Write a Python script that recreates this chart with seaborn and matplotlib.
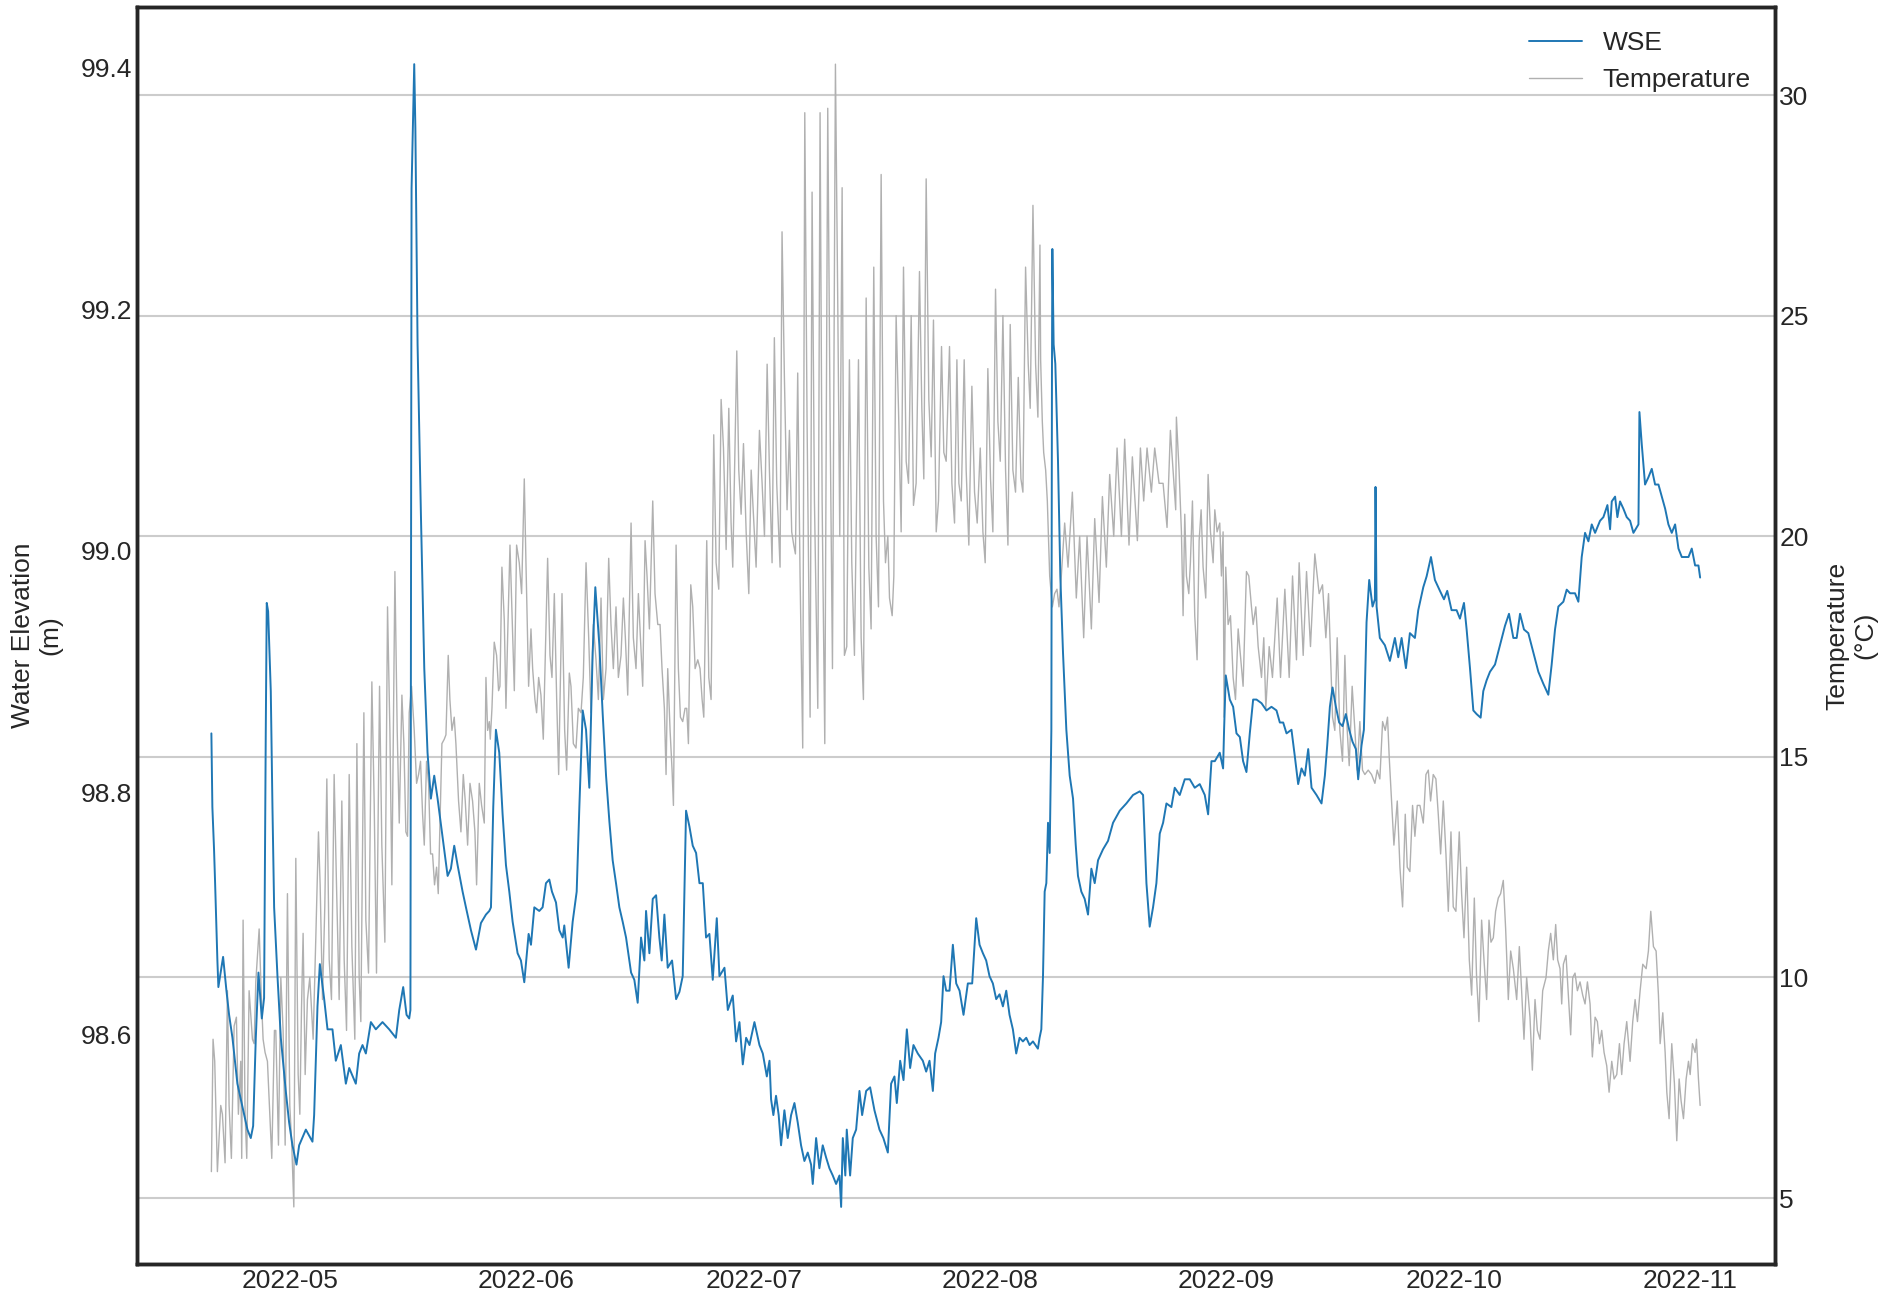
import pandas as pd
import matplotlib
matplotlib.use("Agg")
import matplotlib.pyplot as plt
import seaborn as sns

# days after 2022-05-01 00:00, water surface elevation (m)
wse_days = [
    -10.37, -10.24, -10.02, -9.88, -9.58, -9.45, -8.83, -8.39, -8.04, -7.60, -6.95, -6.29, -5.63, -5.19,
    -4.88, -4.53, -4.18, -3.74, -3.44, -3.22, -3.09, -2.91, -2.56, -2.34, -2.12, -1.68, -1.24, -0.59,
    -0.15, 0.29, 0.82, 1.17, 2.05, 2.92, 3.14, 3.58, 3.89, 4.46, 4.90, 5.55, 5.99, 6.65, 7.31, 7.75,
    8.62, 9.06, 9.50, 9.94, 10.60, 11.25, 12.13, 13.01, 13.89, 14.33, 14.85, 15.29, 15.64, 15.80, 15.95,
    16.30, 16.45, 16.74, 17.18, 17.62, 18.05, 18.49, 18.93, 19.37, 20.03, 20.69, 21.12, 21.56, 22.00,
    22.66, 23.10, 23.76, 24.42, 25.07, 25.73, 26.17,
    26.39, 26.69, 27.04, 27.48, 27.92, 28.36, 28.80, 29.24, 29.89, 30.33, 30.77, 31.34, 31.65, 32.09,
    32.74, 33.18, 33.62, 34.06, 34.41, 34.94, 35.38, 35.82, 36.03, 36.60, 37.13, 37.66, 38.01, 38.45,
    38.89, 39.32, 39.76, 40.11, 40.64, 41.08, 41.52, 41.96, 42.39, 42.83, 43.27, 43.71, 44.15, 44.81,
    45.24, 45.68, 46.12, 46.56, 46.78, 47.22, 47.66, 48.10, 48.53, 48.84, 49.19, 49.63, 50.20, 50.73,
    51.17, 51.60, 51.74, 52.04, 52.48, 52.92, 53.36, 53.80, 54.24, 54.67, 55.11, 55.55, 56.08, 56.43,
    57.09, 57.53, 58.18, 58.62, 59.06, 59.50, 59.94, 60.38, 61.03, 61.69, 62.13, 62.66, 63.01,
    63.22, 63.52, 63.87, 64.22, 64.53, 64.97, 65.41, 65.85, 66.29, 66.72, 67.16, 67.60, 68.04, 68.48,
    68.70, 69.14, 69.57, 70.01, 70.45, 70.89, 71.33, 71.77, 72.21, 72.43, 72.65, 72.98, 73.17, 73.61,
    73.96, 74.40, 74.84, 75.19, 75.72, 76.24, 76.81, 77.47, 77.98, 78.57, 79.00, 79.44, 79.75, 80.19,
    80.63, 81.07, 81.50, 81.94, 82.51, 83.17, 83.61, 84.05, 84.49, 84.79, 85.23, 85.58, 85.89, 86.24,
    86.68, 87.12, 87.56, 88.00, 88.52, 89.09, 89.66, 90.19, 90.63, 91.07, 91.50, 91.94, 92.38, 92.82,
    93.26, 93.70, 94.14, 94.57, 95.01, 95.45, 95.89, 96.33, 96.77, 97.21, 97.65, 98.30, 98.52,
    98.75, 98.97, 99.19, 99.41, 99.63, 99.85, 100.07, 100.15, 100.20, 100.37, 100.59, 100.94, 101.25,
    101.60, 102.04, 102.48, 102.92, 103.27, 103.57, 104.01, 104.45, 104.89, 105.33, 105.77, 106.21,
    106.86, 107.52, 108.18, 109.06, 109.93, 110.81, 111.69, 112.13, 112.57, 113.00, 113.44, 113.88,
    114.32, 114.76, 115.20, 115.85, 116.29, 116.95, 117.61, 118.27, 118.92, 119.58, 120.24, 120.68,
    121.12, 121.56, 122.21, 122.65, 122.78, 123.00, 123.53, 123.97, 124.41, 124.85, 125.28, 125.72,
    126.16, 126.60, 127.04, 127.70, 128.35, 129.01, 129.67, 130.11, 130.55, 130.99, 131.64, 132.08,
    132.52, 132.96, 133.40, 133.84, 134.28, 134.93, 135.59, 136.03, 136.34, 136.69,
    137.04, 137.48, 137.91, 138.35, 138.79, 139.23, 139.67, 140.11, 140.41, 140.85, 141.16, 141.51,
    141.86, 142.30, 142.61, 142.69, 142.83, 143.26, 143.92, 144.58, 145.24, 145.68, 146.12, 146.69,
    147.21, 147.87, 148.31, 148.97, 149.41, 149.98, 150.50, 151.16, 151.69, 152.12, 152.69, 153.35,
    153.79, 154.32, 154.67, 155.11, 155.55, 155.98, 156.51, 156.86, 157.30, 157.74, 158.40, 159.05,
    159.71, 160.24, 160.81, 161.25, 161.69, 162.21, 162.78, 163.44, 164.10, 164.76, 165.41, 165.85,
    166.29, 166.73,
    167.39, 167.83, 168.27, 168.92, 169.36, 169.80, 170.24, 170.68, 171.12, 171.56, 172.21, 172.65,
    173.18, 173.53, 173.75, 174.19, 174.49, 174.84, 175.28, 175.72, 176.16, 176.60, 177.26, 177.39,
    177.70, 178.13, 178.57, 179.01, 179.45, 179.89, 180.33, 180.77, 181.20, 181.64, 182.08, 182.52,
    182.96, 183.40, 183.84, 184.27, 184.71, 185.15, 185.37,
]
wse_m = [
    98.849, 98.788, 98.753, 98.725, 98.661, 98.639, 98.664, 98.636, 98.616, 98.597, 98.559, 98.540, 98.521, 98.514,
    98.524, 98.597, 98.651, 98.613, 98.630, 98.850, 98.957, 98.950, 98.884, 98.788, 98.705, 98.648, 98.597, 98.553,
    98.527, 98.508, 98.492, 98.508, 98.521, 98.511, 98.533, 98.623, 98.658, 98.629, 98.604, 98.604, 98.578, 98.591, 98.559, 98.572,
    98.559, 98.584, 98.591, 98.584, 98.610, 98.604, 98.610, 98.604, 98.597, 98.620, 98.639, 98.616, 98.613, 98.620, 99.300,
    99.403, 99.350, 99.171, 99.030, 98.903, 98.833, 98.795, 98.814, 98.795, 98.763, 98.731, 98.737, 98.756, 98.740,
    98.718, 98.705, 98.686, 98.670, 98.692, 98.699, 98.702,
    98.705, 98.788, 98.852, 98.833, 98.782, 98.740, 98.718, 98.693, 98.667, 98.661, 98.643, 98.683, 98.674, 98.705,
    98.702, 98.705, 98.725, 98.728, 98.718, 98.709, 98.686, 98.680, 98.690, 98.655, 98.693, 98.718, 98.788, 98.868,
    98.852, 98.804, 98.916, 98.970, 98.922, 98.865, 98.814, 98.776, 98.744, 98.725, 98.705, 98.693, 98.680, 98.651,
    98.645, 98.626, 98.680, 98.661, 98.702, 98.667, 98.712, 98.715, 98.680, 98.661, 98.699, 98.655, 98.661, 98.629,
    98.635, 98.648, 98.693, 98.785, 98.772, 98.756, 98.750, 98.725, 98.725, 98.680, 98.683, 98.645, 98.696, 98.648,
    98.655, 98.620, 98.632, 98.594, 98.610, 98.575, 98.597, 98.591, 98.610, 98.591, 98.584, 98.565, 98.578,
    98.546, 98.533, 98.549, 98.533, 98.508, 98.537, 98.514, 98.533, 98.543, 98.527, 98.508, 98.495, 98.502, 98.492,
    98.476, 98.514, 98.489, 98.508, 98.498, 98.489, 98.483, 98.476, 98.483, 98.457, 98.514, 98.483, 98.521, 98.483,
    98.514, 98.521, 98.553, 98.533, 98.553, 98.556, 98.537, 98.521, 98.514, 98.502, 98.559, 98.565, 98.543, 98.578,
    98.562, 98.604, 98.572, 98.591, 98.584, 98.578, 98.569, 98.578, 98.553, 98.584, 98.597, 98.610, 98.648, 98.636,
    98.636, 98.674, 98.642, 98.636, 98.616, 98.642, 98.642, 98.696, 98.674, 98.667, 98.661, 98.648, 98.642, 98.629,
    98.633, 98.623, 98.636, 98.616, 98.604, 98.584, 98.597, 98.594, 98.597, 98.591, 98.594, 98.588, 98.597,
    98.604, 98.648, 98.718, 98.725, 98.775, 98.750, 98.852, 99.150, 99.250, 99.171, 99.155, 99.075, 98.979,
    98.916, 98.852, 98.814, 98.795, 98.757, 98.731, 98.718, 98.712, 98.699, 98.737, 98.725, 98.744,
    98.753, 98.760, 98.775, 98.785, 98.791, 98.798, 98.801, 98.798, 98.725, 98.689, 98.705, 98.725,
    98.766, 98.775, 98.791, 98.788, 98.804, 98.798, 98.811, 98.811, 98.804, 98.807, 98.798, 98.782,
    98.826, 98.826, 98.833, 98.820, 98.852, 98.897, 98.877, 98.871, 98.849, 98.846, 98.826, 98.817,
    98.849, 98.877, 98.877, 98.874, 98.868, 98.871, 98.868, 98.858, 98.858, 98.849, 98.852, 98.830,
    98.807, 98.820, 98.814, 98.836, 98.804, 98.798, 98.791, 98.814, 98.839, 98.871,
    98.887, 98.871, 98.858, 98.855, 98.865, 98.852, 98.842, 98.836, 98.811, 98.839, 98.852, 98.941,
    98.976, 98.954, 98.960, 99.053, 98.954, 98.928, 98.922, 98.909, 98.928, 98.912, 98.928, 98.903,
    98.932, 98.928, 98.951, 98.970, 98.979, 98.995, 98.976, 98.967, 98.960, 98.967, 98.951, 98.951,
    98.944, 98.957, 98.935, 98.903, 98.868, 98.865, 98.862, 98.884, 98.893, 98.900, 98.906, 98.922,
    98.938, 98.948, 98.928, 98.928, 98.948, 98.935, 98.932, 98.916, 98.900, 98.890, 98.881, 98.906,
    98.935, 98.954,
    98.958, 98.968, 98.965, 98.965, 98.958, 98.995, 99.015, 99.008, 99.022, 99.015, 99.025, 99.028,
    99.038, 99.018, 99.041, 99.045, 99.028, 99.041, 99.035, 99.028, 99.025, 99.015, 99.022, 99.115,
    99.088, 99.055, 99.061, 99.068, 99.055, 99.055, 99.045, 99.035, 99.022, 99.015, 99.022, 99.002,
    98.995, 98.995, 98.995, 99.002, 98.988, 98.988, 98.978,
]

# days after 2022-05-01 00:00, water temperature (degC)
temp_days = [
    -10.37, -10.15, -9.93, -9.58, -9.14, -8.92, -8.57, -8.26, -8.04, -7.74, -7.38, -7.08, -6.82, -6.51,
    -6.38, -6.20, -5.94, -5.72, -5.41, -4.97, -4.75, -4.53, -4.09, -3.83, -3.57, -3.31, -3.00, -2.69,
    -2.43, -2.08, -1.90, -1.55, -1.24, -0.94, -0.67, -0.37, -0.06, 0.20, 0.47, 0.73, 1.04, 1.26, 1.48,
    1.69, 1.96, 2.26, 2.57, 3.01, 3.36, 3.71, 3.93, 4.24, 4.54, 4.81, 5.12, 5.42, 5.77, 6.08, 6.43,
    6.78, 7.09, 7.40, 7.75, 8.10, 8.49, 8.76, 9.06, 9.28, 9.68, 9.94, 10.29, 10.73, 11.04, 11.34,
    11.74, 12.04, 12.44, 12.79, 13.10, 13.36, 13.76, 14.06, 14.33, 14.68, 14.94, 15.20, 15.42, 15.64,
    15.95, 16.30, 16.61, 16.87, 17.13, 17.40, 17.62, 17.92, 18.19, 18.45, 18.71, 18.97, 19.24, 19.46,
    19.68, 19.94, 20.25, 20.47, 20.77, 20.99, 21.26, 21.56, 21.78, 22.13, 22.44, 22.75, 23.01, 23.32,
    23.63, 23.97, 24.28, 24.50, 24.85, 25.16, 25.51, 25.73, 25.95, 26.17,
    26.30, 26.52, 26.82, 27.13, 27.39, 27.57, 27.83, 28.14, 28.36, 28.58, 28.89, 29.10, 29.46, 29.76,
    30.11, 30.42, 30.77, 30.99, 31.34, 31.65, 31.87, 32.17, 32.39, 32.66, 32.96, 33.27, 33.53, 33.84,
    34.15, 34.41, 34.72, 35.03, 35.29, 35.73, 36.08, 36.34, 36.69, 36.91, 37.22, 37.57, 37.88, 38.23,
    38.53, 38.89, 39.24, 39.54, 39.85, 40.20, 40.51, 40.86, 41.17, 41.52, 41.87, 42.17, 42.48, 42.83,
    43.14, 43.49, 43.80, 44.06, 44.37, 44.81, 45.11, 45.46, 45.77, 45.99, 46.34, 46.65, 46.91, 47.22,
    47.66, 47.96, 48.32, 48.62, 48.88, 49.19, 49.41, 49.63, 49.94, 50.20, 50.38, 50.73, 51.03, 51.30,
    51.60, 51.91, 52.13, 52.35, 52.66, 52.92, 53.23, 53.58, 53.88, 54.15, 54.37, 54.76, 55.03, 55.33,
    55.68, 55.99, 56.34, 56.65, 56.96, 57.31, 57.66, 57.96, 58.18, 58.71, 58.97, 59.28, 59.59, 59.94,
    60.29, 60.60, 60.90, 61.25, 61.69, 62.04, 62.35, 62.70,
    63.00, 63.35, 63.65, 63.96, 64.40, 64.66, 64.97, 65.32, 65.63, 65.93, 66.20, 66.42, 66.72, 67.03,
    67.38, 67.65, 67.95, 68.35, 68.61, 68.92, 69.36, 69.66, 69.93, 70.28, 70.67, 70.98, 71.29, 71.68,
    71.99, 72.25, 72.56, 72.86, 73.17, 73.52, 73.83, 74.18, 74.71, 75.06, 75.36, 75.72, 76.07, 76.37,
    76.72, 77.03, 77.34, 77.69, 78.00, 78.26, 78.57, 78.79, 79.14, 79.36, 79.66, 79.97, 80.32, 80.63,
    80.98, 81.29, 81.64, 81.94, 82.29, 82.73, 83.04, 83.30, 83.61, 83.96, 84.27, 84.57, 84.93, 85.23,
    85.63, 85.93, 86.24, 86.68, 86.99, 87.34, 87.65, 87.91, 88.22, 88.61, 88.87, 89.22, 89.62, 89.97,
    90.32, 90.72, 91.07, 91.37, 91.72, 92.07, 92.38, 92.73, 93.04, 93.35, 93.70, 94.05, 94.36, 94.66,
    95.01, 95.36, 95.72, 96.07, 96.33, 96.68, 97.03, 97.29, 97.65, 98.00, 98.30, 98.57, 98.66, 98.88,
    99.06, 99.32, 99.54, 99.85,
    100.20, 100.50, 100.81, 101.07, 101.38, 101.82, 102.26, 102.83, 103.35, 103.79, 104.32, 104.76,
    105.33, 105.77, 106.34, 106.78, 107.30, 107.74, 108.27, 108.71, 109.28, 109.71, 110.28, 110.72,
    111.38, 111.78, 112.21, 112.65, 113.22, 113.66, 114.23, 114.76, 115.28, 115.72, 116.07, 116.42,
    116.51, 116.86, 117.17, 117.39, 117.61, 117.83, 118.14, 118.35, 118.62, 118.92, 119.23, 119.50,
    119.76, 120.02, 120.37, 120.68, 120.99, 121.34, 121.56, 121.86, 122.21, 122.43, 122.65, 122.78,
    123.00, 123.31, 123.62, 123.97, 124.28, 124.63, 124.93, 125.28, 125.72, 126.03, 126.38, 126.60,
    126.95, 127.26, 127.70, 128.00, 128.27, 128.71, 129.14, 129.76, 130.20, 130.77, 131.34, 131.78,
    132.30, 132.65, 133.18, 133.62, 134.14, 134.71, 135.28, 135.72, 136.16, 136.51,
    137.04, 137.34, 137.65, 138.00, 138.35, 138.66, 138.97, 139.23, 139.62, 139.98, 140.28, 140.63,
    140.98, 141.29, 141.73, 142.17, 142.61, 142.91, 143.26, 143.62, 143.97, 144.27, 144.49, 144.80,
    145.11, 145.55, 145.90, 146.25, 146.60, 146.86, 147.21, 147.56, 147.87, 148.18, 148.53, 148.97,
    149.32, 149.63, 149.93, 150.28, 150.63, 150.94, 151.25, 151.60, 151.95, 152.26, 152.61, 152.91,
    153.26, 153.70, 154.01, 154.32, 154.67, 155.02, 155.33, 155.68, 155.98, 156.29, 156.64, 156.95,
    157.30, 157.61, 157.87, 158.18, 158.48, 158.83, 159.14, 159.49, 159.80, 160.15, 160.46, 160.81,
    161.25, 161.60, 161.90, 162.21, 162.56, 163.00, 163.31, 163.66, 163.97, 164.32, 164.67, 165.11,
    165.41, 165.72, 166.07, 166.38, 166.64,
    166.95, 167.17, 167.39, 167.74, 168.05, 168.35, 168.62, 168.92, 169.23, 169.58, 169.93, 170.24,
    170.55, 170.90, 171.20, 171.56, 171.86, 172.13, 172.43, 172.74, 173.09, 173.40, 173.75, 174.06,
    174.41, 174.76, 175.06, 175.37, 175.72, 176.16, 176.51, 176.82, 177.13, 177.48, 177.83, 178.27,
    178.57, 178.88, 179.23, 179.58, 179.89, 180.11, 180.46, 180.77, 180.99, 181.29, 181.64, 181.99,
    182.30, 182.61, 182.87, 183.18, 183.53, 183.84, 184.06, 184.36, 184.71, 184.89, 185.15, 185.37,
]
temp_c = [
    5.6, 8.6, 8.1, 5.6, 7.1, 6.9, 5.8, 9.7, 7.1, 5.9, 8.9, 9.1, 6.9, 8.1,
    5.9, 11.3, 6.9, 5.9, 9.7, 8.6, 8.5, 9.9, 11.1, 9.7, 8.6, 8.3, 8.1, 6.9,
    5.9, 8.8, 8.8, 6.2, 10.0, 8.8, 6.2, 11.9, 7.1, 6.2, 4.8, 12.7, 7.8, 6.9, 9.3,
    11.0, 7.8, 9.5, 10.0, 8.6, 10.9, 13.3, 12.1, 9.5, 11.6, 14.5, 10.4, 9.5, 14.6, 12.1, 9.5,
    14.0, 10.4, 8.8, 14.6, 10.7, 8.6, 15.3, 10.0, 9.0, 16.0, 11.3, 10.1, 16.7, 13.9, 10.1,
    16.6, 13.0, 10.8, 18.4, 15.6, 12.1, 19.2, 15.6, 13.5, 16.4, 15.3, 13.3, 13.2, 16.0,
    16.6, 15.6, 14.4, 14.6, 14.9, 13.7, 13.0, 14.9, 14.4, 12.8, 12.8, 12.1, 12.5, 11.9,
    13.5, 15.3, 15.4, 15.5, 17.3, 16.3, 15.6, 15.9, 15.3, 14.0, 13.3, 14.6, 14.0, 13.0,
    14.4, 14.0, 13.3, 12.1, 14.4, 13.9, 13.5, 16.8, 15.6, 15.8,
    15.4, 16.1, 17.6, 17.3, 16.5, 16.6, 19.3, 18.1, 16.1, 17.7, 19.8, 18.6, 16.5, 19.8,
    19.4, 18.7, 21.3, 19.4, 16.6, 17.9, 17.0, 16.3, 16.0, 16.8, 16.4, 15.4, 17.3, 19.5,
    17.3, 16.8, 18.7, 16.3, 14.6, 18.7, 15.6, 14.7, 16.9, 16.6, 15.3, 15.2, 16.1, 16.0,
    16.8, 19.4, 17.7, 16.0, 18.0, 17.2, 16.3, 18.6, 16.3, 17.0, 19.5, 18.0, 17.0, 18.4,
    16.8, 17.3, 18.6, 17.7, 16.4, 20.3, 17.7, 17.0, 18.7, 17.9, 16.6, 19.9, 19.1, 17.9,
    20.8, 18.7, 18.0, 18.0, 17.0, 16.1, 14.6, 17.0, 15.6, 14.7, 13.9, 19.8, 17.0, 15.9,
    15.8, 16.1, 16.1, 15.3, 18.9, 18.4, 17.0, 17.2, 17.0, 16.3, 15.9, 19.9, 16.8, 16.3,
    22.3, 19.4, 18.8, 23.1, 22.0, 19.7, 22.9, 20.3, 19.3, 24.2, 21.5, 20.5, 22.1, 20.1,
    18.7, 21.5, 20.5, 19.3, 22.4, 21.2, 20.0, 23.9,
    21.5, 19.4, 24.5, 21.2, 19.3, 26.9, 23.6, 20.6, 22.4, 20.1, 19.8, 19.6, 23.7, 19.1,
    15.2, 29.6, 22.6, 15.9, 27.8, 20.8, 16.1, 29.6, 20.8, 15.3, 29.7, 22.6, 17.0, 30.7,
    25.2, 20.0, 27.9, 17.3, 17.5, 24.0, 19.4, 17.3, 24.0, 17.7, 16.3, 25.4, 19.3, 17.9,
    26.1, 20.0, 18.4, 28.2, 20.8, 19.4, 20.0, 18.6, 18.2, 19.1, 25.0, 22.9, 20.1, 26.1,
    21.7, 21.2, 25.0, 20.7, 21.2, 26.0, 22.9, 21.3, 28.1, 23.1, 21.8, 24.9, 20.1, 20.8,
    24.3, 21.9, 21.7, 24.3, 21.2, 20.3, 24.0, 21.2, 20.8, 24.0, 21.5, 19.8, 23.4, 21.0,
    20.3, 22.0, 20.1, 19.4, 23.8, 21.3, 20.1, 25.6, 22.6, 21.7, 25.0, 21.5, 19.8, 24.8,
    21.5, 21.0, 23.6, 21.3, 21.0, 26.1, 23.9, 22.9, 27.5, 23.9, 22.7, 26.6, 24.0, 22.6,
    21.9, 21.5, 20.8, 19.1,
    18.4, 18.7, 18.8, 18.4, 19.1, 20.3, 19.3, 21.0, 18.6, 20.0, 17.7, 20.0,
    17.9, 20.4, 18.5, 20.9, 19.3, 21.4, 20.0, 22.0, 20.0, 22.2, 19.8, 21.8,
    19.9, 22.0, 20.8, 22.0, 21.0, 22.0, 21.2, 21.2, 20.2, 22.4, 21.5, 20.6,
    22.7, 21.5, 20.1, 18.2, 20.5, 19.1, 18.7, 19.4, 20.8, 18.2, 17.2, 19.9,
    20.6, 19.3, 18.6, 21.4, 20.1, 19.4, 20.6, 20.1, 20.3, 19.1, 20.1, 15.9,
    19.3, 18.0, 18.2, 16.8, 16.3, 17.9, 17.3, 16.6, 19.2, 19.1, 18.4, 18.0,
    18.4, 17.5, 16.8, 17.7, 16.1, 17.5, 16.8, 18.6, 16.8, 18.8, 16.8, 19.1,
    17.2, 19.4, 17.3, 19.2, 17.5, 19.6, 18.7, 18.9, 17.7, 18.7,
    15.9, 15.6, 17.7, 15.6, 14.9, 17.3, 15.6, 14.8, 16.6, 15.6, 14.7, 15.8,
    14.7, 14.6, 14.7, 14.6, 14.4, 14.7, 14.5, 15.8, 15.6, 15.9, 15.0, 14.0,
    13.0, 14.0, 12.5, 11.6, 13.7, 12.5, 12.4, 13.9, 13.2, 13.9, 13.9, 13.5,
    14.6, 14.7, 14.0, 14.6, 14.5, 13.7, 12.8, 14.0, 12.8, 11.5, 13.3, 11.6,
    11.5, 13.3, 11.9, 10.9, 12.5, 10.4, 9.6, 11.8, 10.0, 9.0, 11.3, 10.4,
    9.5, 11.3, 10.8, 10.9, 11.5, 11.8, 11.9, 12.2, 11.1, 9.5, 10.6, 10.2,
    9.5, 10.7, 9.7, 8.6, 10.0, 9.1, 7.9, 9.5, 8.8, 8.6, 9.7, 10.0,
    10.6, 11.0, 10.4, 11.2, 10.4,
    10.2, 9.4, 10.3, 10.5, 9.6, 8.7, 10.0, 10.1, 9.7, 9.9, 9.6, 9.4,
    9.9, 9.4, 8.2, 9.1, 9.0, 8.5, 8.8, 8.3, 8.0, 7.4, 8.1, 7.7,
    7.8, 8.5, 7.8, 8.5, 9.0, 8.1, 9.0, 9.5, 9.0, 9.7, 10.3, 10.2,
    10.6, 11.5, 10.7, 10.6, 9.6, 8.5, 9.2, 8.3, 7.4, 6.8, 8.5, 7.6,
    6.3, 7.7, 7.2, 6.8, 7.7, 8.1, 7.8, 8.5, 8.3, 8.6, 7.7, 7.1,
]

start = pd.Timestamp("2022-05-01")
wse = pd.DataFrame({"time": start + pd.to_timedelta(wse_days, unit="D"), "WSE": wse_m})
temp = pd.DataFrame({"time": start + pd.to_timedelta(temp_days, unit="D"), "Temperature": temp_c})

sns.set_style("white")
plt.rcParams["font.family"] = ["Liberation Sans", "DejaVu Sans"]

fig, ax = plt.subplots(figsize=(19.02, 13.01), dpi=100)
ax2 = ax.twinx()

sns.lineplot(data=temp, x="time", y="Temperature", ax=ax2, color="#b0b0b0", linewidth=1.0, label="Temperature", legend=False)
sns.lineplot(data=wse, x="time", y="WSE", ax=ax, color="#1f77b4", linewidth=1.4, label="WSE", legend=False)

# WSE drawn above the temperature axis
ax.set_zorder(ax2.get_zorder() + 1)
ax.patch.set_visible(False)

ax2.grid(axis="y", color="#cccccc", linewidth=1.5)
ax.grid(False)

ax.set_xlabel("")
ax.set_ylabel("Water Elevation\n(m)", fontsize=19, family=["Liberation Sans Narrow", "Liberation Sans"], labelpad=13)
ax2.set_ylabel("Temperature\n(°C)", fontsize=19, labelpad=12)

ax.tick_params(axis="both", labelsize=19, colors="#262626", length=0)
ax2.tick_params(axis="y", labelsize=19, colors="#262626", length=0)
ax.xaxis.set_major_formatter(matplotlib.dates.DateFormatter("%Y-%m"))

for sp in ax.spines.values():
    sp.set_color("#262626")
    sp.set_linewidth(2.5)
for sp in ax2.spines.values():
    sp.set_color("#262626")
    sp.set_linewidth(2.5)

h1, l1 = ax.get_legend_handles_labels()
h2, l2 = ax2.get_legend_handles_labels()
ax.legend(h1 + h2, l1 + l2, loc="upper right", frameon=False, fontsize=19)

fig.subplots_adjust(left=0.072, right=0.933, top=0.9946, bottom=0.0284)
fig.savefig("out.png", dpi=100)
